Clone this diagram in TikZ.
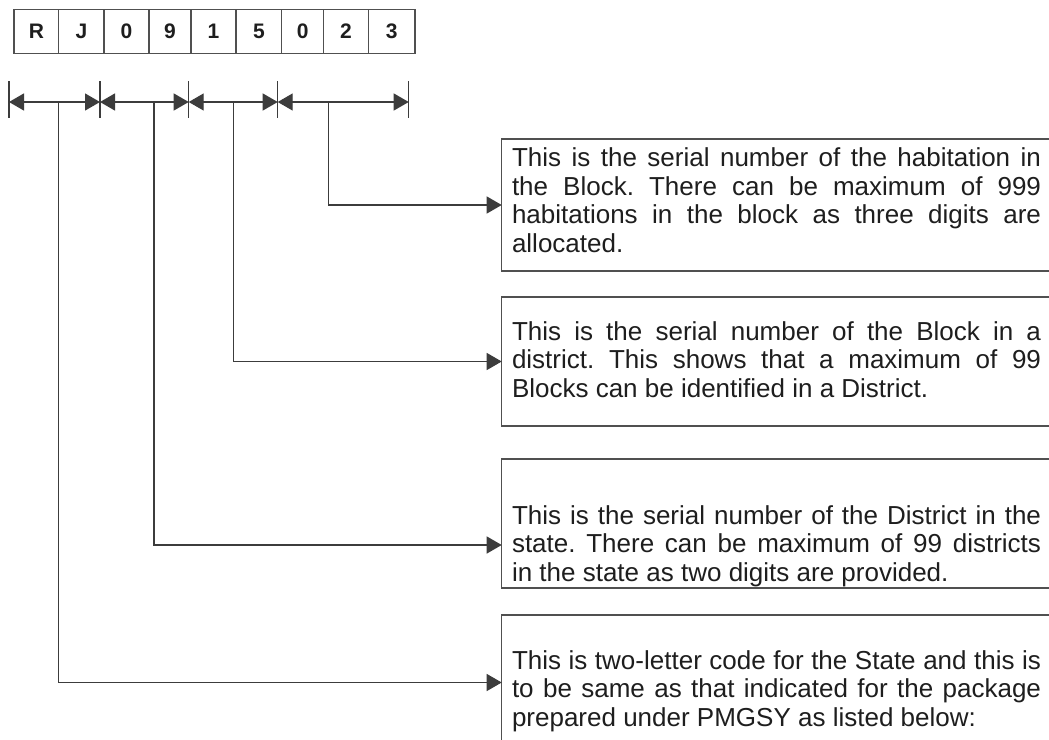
\documentclass[tikz,border=0pt]{standalone}
\usepackage{fontspec}
\setmainfont{Liberation Sans}
\usetikzlibrary{arrows.meta}
\definecolor{ink}{HTML}{1E1E1E}
\definecolor{edge}{HTML}{3C3C3C}
\definecolor{frame}{HTML}{505050}
\frenchspacing
\begin{document}
\begin{tikzpicture}[x=1pt,y=-1pt,
  cell/.style={draw=frame,line width=1.3pt,inner sep=0pt,outer sep=0pt,minimum height=44pt,
    font=\fontsize{21}{24}\selectfont\bfseries,text=ink},
  tbox/.style={draw=frame,line width=1.4pt,inner sep=0pt,outer sep=0pt,minimum width=640pt},
  txt/.style={inner sep=0pt,outer sep=0pt,text width=529pt,align=justify,text=ink,
    font=\fontsize{26}{28.6}\selectfont},
  dimline/.style={draw=edge,line width=1.3pt,{Triangle[length=15pt,width=17pt]}-{Triangle[length=15pt,width=17pt]}},
  conn/.style={draw=edge,line width=1.3pt,-{Triangle[length=15pt,width=17pt]}},
  tick/.style={draw=edge,line width=1.1pt}]
\clip (0,0) rectangle (1049,739);
\fill[white] (0,0) rectangle (1049,739);
% code cells
\foreach \l/\r/\t [count=\i] in {14/58.7/R,58.7/104/J,104/149/0,149/191/9,191/236/1,236/281.7/5,281.7/323.7/0,323.7/368.3/2,368.3/415/3}
  \node[cell,minimum width={(\r-\l)*1pt}] (c\i) at ({(\l+\r)/2},31.3) {\t};
% dimension ticks
\coordinate (k1) at (9,102);
\coordinate (k2) at (100,102);
\coordinate (k3) at (188.7,102);
\coordinate (k4) at (277.7,102);
\coordinate (k5) at (408.7,102);
\foreach \k in {k1,k2,k3,k4,k5}
  \draw[tick] ([yshift=21pt]\k) -- ([yshift=-16pt]\k);
\draw[dimline] (k1) -- (k2);
\draw[dimline] (k2) -- (k3);
\draw[dimline] (k3) -- (k4);
\draw[dimline] (k4) -- (k5);
% drop points
\coordinate (d1) at (58.7,102);
\coordinate (d2) at (154,102);
\coordinate (d3) at (233.7,102);
\coordinate (d4) at (328.7,102);
% boxes
\node[tbox,minimum height=132pt,anchor=north west] (box1) at (501.7,139) {};
\node[tbox,minimum height=129pt,anchor=north west] (box2) at (501.7,297) {};
\node[tbox,minimum height=129pt,anchor=north west] (box3) at (501.7,459) {};
\node[tbox,minimum height=135pt,anchor=north west] (box4) at (501.7,615) {};
% texts
\node[txt,anchor=base west] (t1) at (512,166.5) {This is the serial number of the habitation in\linebreak the Block. There can be maximum of 999\linebreak habitations in the block as three digits are\linebreak allocated.};
\node[txt,anchor=base west] (t2) at (512,340) {This is the serial number of the Block in a\linebreak district. This shows that a maximum of 99\linebreak Blocks can be identified in a District.};
\node[txt,anchor=base west] (t3) at (512,524) {This is the serial number of the District in the\linebreak state. There can be maximum of 99 districts\linebreak in the state as two digits are provided.};
\node[txt,anchor=base west] (t4) at (512,669) {This is two-letter code for the State and this is\linebreak to be same as that indicated for the package\linebreak prepared under PMGSY as listed below:};
% connectors
\draw[conn] (d4) |- (box1.west);
\draw[conn] (d3) |- (box2.west);
\draw[conn] (d2) |- ([yshift=-21.5pt]box3.west);
\draw[conn] (d1) |- (box4.west);
\end{tikzpicture}
\end{document}
